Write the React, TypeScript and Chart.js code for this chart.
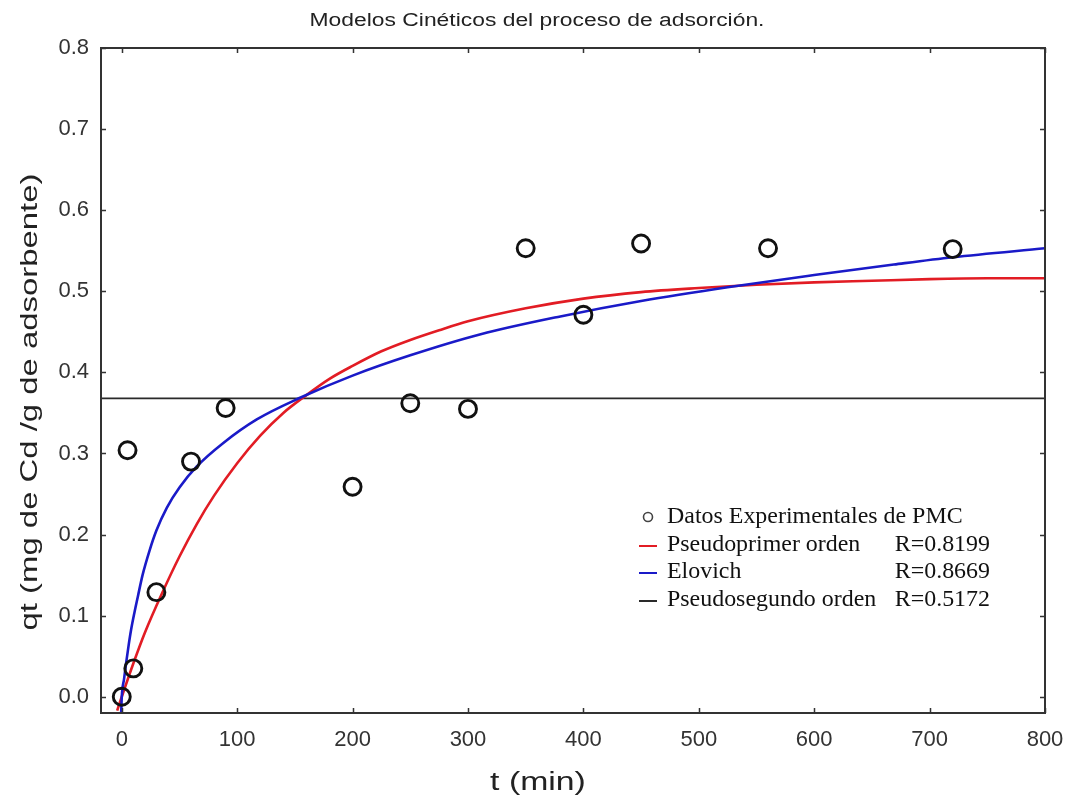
import { useEffect, useRef } from "react";
import { Chart, registerables } from "chart.js";

Chart.register(...registerables);

// Text
const chartTitle = "Modelos Cinéticos del proceso de adsorción.";
const xAxisTitle = "t (min)";
const yAxisTitle = "qt (mg de Cd /g de adsorbente)";

// Axis ticks
const xTicks = [0, 100, 200, 300, 400, 500, 600, 700, 800];
const yTicks = [0.0, 0.1, 0.2, 0.3, 0.4, 0.5, 0.6, 0.7, 0.8];
const xMin = -18;
const xMax = 800;
const yMin = -0.02;
const yMax = 0.8;

// Experimental data (PMC)
const tExp = [0, 5, 10, 30, 60, 90, 200, 250, 300, 350, 400, 450, 560, 720];
const qExp = [0.0, 0.304, 0.035, 0.129, 0.29, 0.356, 0.259, 0.362, 0.355, 0.553, 0.471, 0.559, 0.553, 0.552];

// Pseudo-first-order model curve
const tPrimer = [-4, 0, 10, 20, 35, 50, 65, 80, 100, 120, 140, 160, 180, 200, 225, 250, 275, 300, 350, 400, 450, 500, 550, 600, 650, 700, 750, 800];
const qPrimer = [-0.017, 0.0, 0.041, 0.079, 0.128, 0.173, 0.213, 0.248, 0.288, 0.322, 0.35, 0.372, 0.392, 0.408, 0.426, 0.44, 0.452, 0.463, 0.479, 0.491, 0.499, 0.504, 0.508, 0.511, 0.513, 0.515, 0.516, 0.516];

// Elovich model curve
const tElovich = [-0.5, 0, 2, 4, 6, 8, 11, 14, 18, 24, 30, 39, 50, 65, 88, 117, 155, 200, 250, 311, 380, 450, 525, 600, 669, 720, 800];
const qElovich = [-0.02, 0.0, 0.022, 0.044, 0.064, 0.082, 0.104, 0.124, 0.15, 0.18, 0.205, 0.233, 0.258, 0.284, 0.313, 0.342, 0.369, 0.396, 0.421, 0.447, 0.469, 0.488, 0.505, 0.52, 0.533, 0.542, 0.553];

// Pseudo-second-order model (flat line)
const tSegundo = [-18, 800];
const qSegundo = [0.368, 0.368];

// Legend
const legendLabels = ["Datos Experimentales de PMC", "Pseudoprimer orden", "Elovich", "Pseudosegundo orden"];
const legendR = ["", "R=0.8199", "R=0.8669", "R=0.5172"];

const RED = "rgb(226,28,36)";
const BLUE = "rgb(26,26,200)";
const BLACK = "#2a2a2a";
const SANS = "'Liberation Sans', Arial, Helvetica, sans-serif";
const SERIF = "'Liberation Serif', 'Times New Roman', serif";

function pts(xs: number[], ys: number[]) {
  return xs.map((x, i) => ({ x, y: ys[i] }));
}

function stretchedText(
  ctx: CanvasRenderingContext2D,
  text: string,
  x: number,
  y: number,
  sx: number,
  align: CanvasTextAlign,
  rotate = 0
) {
  ctx.save();
  ctx.translate(x, y);
  if (rotate) ctx.rotate(rotate);
  ctx.scale(sx, 1);
  ctx.textAlign = align;
  ctx.fillText(text, 0, 0);
  ctx.restore();
}

const decorPlugin = {
  id: "decor",
  beforeDraw(chart: any) {
    const { ctx, width, height } = chart;
    ctx.save();
    ctx.fillStyle = "#ffffff";
    ctx.fillRect(0, 0, width, height);
    ctx.restore();
  },
  afterDraw(chart: any) {
    const { ctx, chartArea: a, scales } = chart;
    const xs = scales.x;
    const ys = scales.y;
    ctx.save();

    // frame
    ctx.strokeStyle = "#333";
    ctx.lineWidth = 2;
    ctx.strokeRect(a.left, a.top, a.right - a.left, a.bottom - a.top);

    // inward ticks on all four sides
    ctx.lineWidth = 1.5;
    const tl = 5;
    ctx.beginPath();
    xTicks.forEach((v) => {
      const px = Math.round(xs.getPixelForValue(v)) + 0.5;
      ctx.moveTo(px, a.bottom);
      ctx.lineTo(px, a.bottom - tl);
      ctx.moveTo(px, a.top);
      ctx.lineTo(px, a.top + tl);
    });
    yTicks.forEach((v) => {
      const py = Math.round(ys.getPixelForValue(v)) + 0.5;
      ctx.moveTo(a.left, py);
      ctx.lineTo(a.left + tl, py);
      ctx.moveTo(a.right, py);
      ctx.lineTo(a.right - tl, py);
    });
    ctx.stroke();

    // titles
    ctx.fillStyle = "#222";
    ctx.textBaseline = "alphabetic";
    ctx.font = `18px ${SANS}`;
    stretchedText(ctx, chartTitle, 537, 26, 1.27, "center");
    ctx.font = `26px ${SANS}`;
    stretchedText(ctx, xAxisTitle, 538, 790, 1.3, "center");
    ctx.font = `24px ${SANS}`;
    stretchedText(ctx, yAxisTitle, 37, 402, 1.37, "center", -Math.PI / 2);

    // legend
    const lx = 648;
    const textX = 667;
    const rRight = 990;
    const rowY = [517, 545, 572, 600];
    const lineColors = ["", RED, BLUE, BLACK];
    ctx.font = `23px ${SERIF}`;
    ctx.textBaseline = "middle";
    legendLabels.forEach((label, i) => {
      const y = rowY[i];
      if (i === 0) {
        ctx.strokeStyle = "#444";
        ctx.lineWidth = 1.6;
        ctx.beginPath();
        ctx.arc(lx, y, 4.5, 0, Math.PI * 2);
        ctx.stroke();
      } else {
        ctx.strokeStyle = lineColors[i];
        ctx.lineWidth = 2;
        ctx.beginPath();
        ctx.moveTo(lx - 9, y + 1);
        ctx.lineTo(lx + 9, y + 1);
        ctx.stroke();
      }
      ctx.fillStyle = "#111";
      stretchedText(ctx, label, textX, y, 1.04, "left");
      if (legendR[i]) stretchedText(ctx, legendR[i], rRight, y, 1.04, "right");
    });

    ctx.restore();
  },
};

export default function App() {
  const canvasRef = useRef<HTMLCanvasElement>(null);

  useEffect(() => {
    const canvas = canvasRef.current;
    if (!canvas) return;
    const chart = new Chart(canvas, {
      type: "line",
      data: {
        datasets: [
          {
            label: legendLabels[0],
            data: pts(tExp, qExp),
            showLine: false,
            pointRadius: 8.5,
            pointBorderWidth: 2.9,
            pointBorderColor: "#111",
            pointBackgroundColor: "rgba(0,0,0,0)",
            pointStyle: "circle",
          },
          {
            label: legendLabels[2],
            data: pts(tElovich, qElovich),
            borderColor: BLUE,
            borderWidth: 2.6,
            pointRadius: 0,
            cubicInterpolationMode: "monotone",
            fill: false,
          },
          {
            label: legendLabels[1],
            data: pts(tPrimer, qPrimer),
            borderColor: RED,
            borderWidth: 2.6,
            pointRadius: 0,
            cubicInterpolationMode: "monotone",
            fill: false,
          },
          {
            label: legendLabels[3],
            data: pts(tSegundo, qSegundo),
            borderColor: BLACK,
            borderWidth: 1.8,
            pointRadius: 0,
            fill: false,
          },
        ],
      },
      options: {
        responsive: false,
        animation: false,
        events: [],
        layout: { padding: { top: 48, right: 23, left: 0, bottom: 0 } },
        plugins: {
          legend: { display: false },
          title: { display: false },
          tooltip: { enabled: false },
        },
        scales: {
          x: {
            type: "linear",
            min: xMin,
            max: xMax,
            grid: { display: false, drawTicks: false },
            border: { display: false },
            afterBuildTicks: (scale: any) => {
              scale.ticks = xTicks.map((v) => ({ value: v }));
            },
            afterFit: (scale: any) => {
              scale.height = 85;
              scale.paddingLeft = 0;
              scale.paddingRight = 0;
            },
            ticks: {
              autoSkip: false,
              maxRotation: 0,
              padding: 14,
              color: "#333",
              font: { family: SANS, size: 22 },
              callback: (v: any) => String(v),
            },
          },
          y: {
            type: "linear",
            min: yMin,
            max: yMax,
            grid: { display: false, drawTicks: false },
            border: { display: false },
            afterBuildTicks: (scale: any) => {
              scale.ticks = yTicks.map((v) => ({ value: v }));
            },
            afterFit: (scale: any) => {
              scale.width = 101;
              scale.paddingTop = 0;
              scale.paddingBottom = 0;
            },
            ticks: {
              autoSkip: false,
              padding: 12,
              color: "#333",
              font: { family: SANS, size: 22 },
              callback: (v: any) => Number(v).toFixed(1),
            },
          },
        },
      },
      plugins: [decorPlugin],
    } as any);
    return () => chart.destroy();
  }, []);

  return (
    <div style={{ position: "absolute", left: 0, top: 0, width: 1068, height: 798, background: "#fff" }}>
      <canvas ref={canvasRef} width={1068} height={798} style={{ display: "block" }} />
    </div>
  );
}
